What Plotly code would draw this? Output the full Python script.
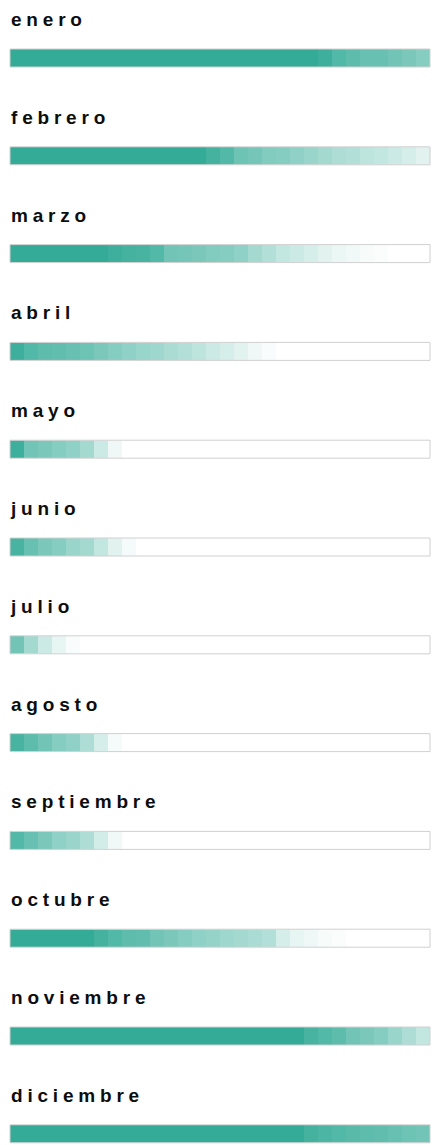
import plotly.graph_objects as go
from plotly.subplots import make_subplots

months = ["enero", "febrero", "marzo", "abril", "mayo", "junio", "julio",
          "agosto", "septiembre", "octubre", "noviembre", "diciembre"]

# intensity of each of 30 segments along the bar (0 = empty, 1 = full teal)
enero = [1.0] * 22 + [0.95, 0.85, 0.8, 0.75, 0.75, 0.7, 0.65, 0.6]
febrero = [1.0] * 14 + [0.92, 0.85, 0.72, 0.68, 0.62, 0.6, 0.55, 0.5, 0.45, 0.4,
                        0.38, 0.32, 0.3, 0.25, 0.2, 0.15]
marzo = [1.0] * 7 + [0.95, 0.92, 0.9, 0.85, 0.7, 0.68, 0.65, 0.62, 0.6, 0.55, 0.45,
                     0.38, 0.3, 0.25, 0.2, 0.15, 0.1, 0.07, 0.04, 0.02, 0, 0, 0]
abril = [0.95, 0.85, 0.8, 0.78, 0.75, 0.72, 0.65, 0.6, 0.55, 0.5, 0.48, 0.42, 0.38,
         0.32, 0.25, 0.2, 0.15, 0.08, 0.03] + [0] * 11
mayo = [0.95, 0.7, 0.65, 0.6, 0.55, 0.45, 0.25, 0.08] + [0] * 22
junio = [0.9, 0.75, 0.65, 0.6, 0.5, 0.45, 0.3, 0.15, 0.05] + [0] * 21
julio = [0.7, 0.45, 0.25, 0.12, 0.03] + [0] * 25
agosto = [0.9, 0.8, 0.7, 0.6, 0.55, 0.4, 0.2, 0.05] + [0] * 22
septiembre = [0.85, 0.75, 0.65, 0.55, 0.5, 0.4, 0.22, 0.07] + [0] * 22
octubre = [1.0] * 6 + [0.92, 0.85, 0.8, 0.78, 0.7, 0.65, 0.6, 0.55, 0.52, 0.48, 0.45,
                       0.42, 0.38, 0.2, 0.12, 0.08, 0.04, 0.02] + [0] * 6
noviembre = [1.0] * 21 + [0.9, 0.85, 0.8, 0.7, 0.65, 0.6, 0.5, 0.4, 0.3]
diciembre = [1.0] * 21 + [0.92, 0.88, 0.85, 0.82, 0.8, 0.78, 0.75, 0.72, 0.7]

values = [enero, febrero, marzo, abril, mayo, junio, julio, agosto,
          septiembre, octubre, noviembre, diciembre]

W, H = 432, 1145
BAR_TOP0 = 49.0
PITCH = 97.8
BAR_H = 18.0
TEAL = "rgb(52,171,151)"

n = len(months)
fig = make_subplots(rows=n, cols=1)

for i, (m, v) in enumerate(zip(months, values)):
    fig.add_trace(
        go.Heatmap(
            z=[v],
            zmin=0, zmax=1,
            colorscale=[[0, "rgb(255,255,255)"], [1, TEAL]],
            showscale=False,
            hoverinfo="skip",
        ),
        row=i + 1, col=1,
    )
    top = BAR_TOP0 + i * PITCH
    d0 = 1 - (top + BAR_H) / H
    d1 = 1 - top / H
    ax = "" if i == 0 else str(i + 1)
    fig.update_layout({
        f"yaxis{ax}": dict(domain=[d0, d1], visible=False, fixedrange=True),
        f"xaxis{ax}": dict(visible=False, fixedrange=True),
    })
    fig.add_shape(
        type="rect", xref=f"x{ax} domain", yref=f"y{ax} domain",
        x0=0, x1=1, y0=0, y1=1,
        line=dict(color="rgb(208,208,208)", width=1),
        fillcolor="rgba(0,0,0,0)", layer="above",
    )
    fig.add_annotation(
        text=m, xref="paper", yref="paper",
        x=0, y=1 - (top - 29.5) / H, xanchor="left", yanchor="middle",
        xshift=-1, showarrow=False,
        font=dict(family="Liberation Sans, Arial, sans-serif", size=19,
                  color="#0d0d0d", weight="bold"),
    )

fig.update_layout(
    width=W, height=H,
    margin=dict(l=10, r=2, t=0, b=0),
    paper_bgcolor="white", plot_bgcolor="white",
    showlegend=False,
)

post = """
document.body.style.margin = '0';
document.body.style.padding = '0';
document.querySelectorAll('.annotation-text').forEach(function (t) {
  var bb = t.getBBox();
  t.setAttribute('text-anchor', 'start');
  t.setAttribute('x', bb.x);
  t.style.letterSpacing = '4.8px';
});
"""

fig.write_html("out.html", post_script=post, config={"displayModeBar": False})
